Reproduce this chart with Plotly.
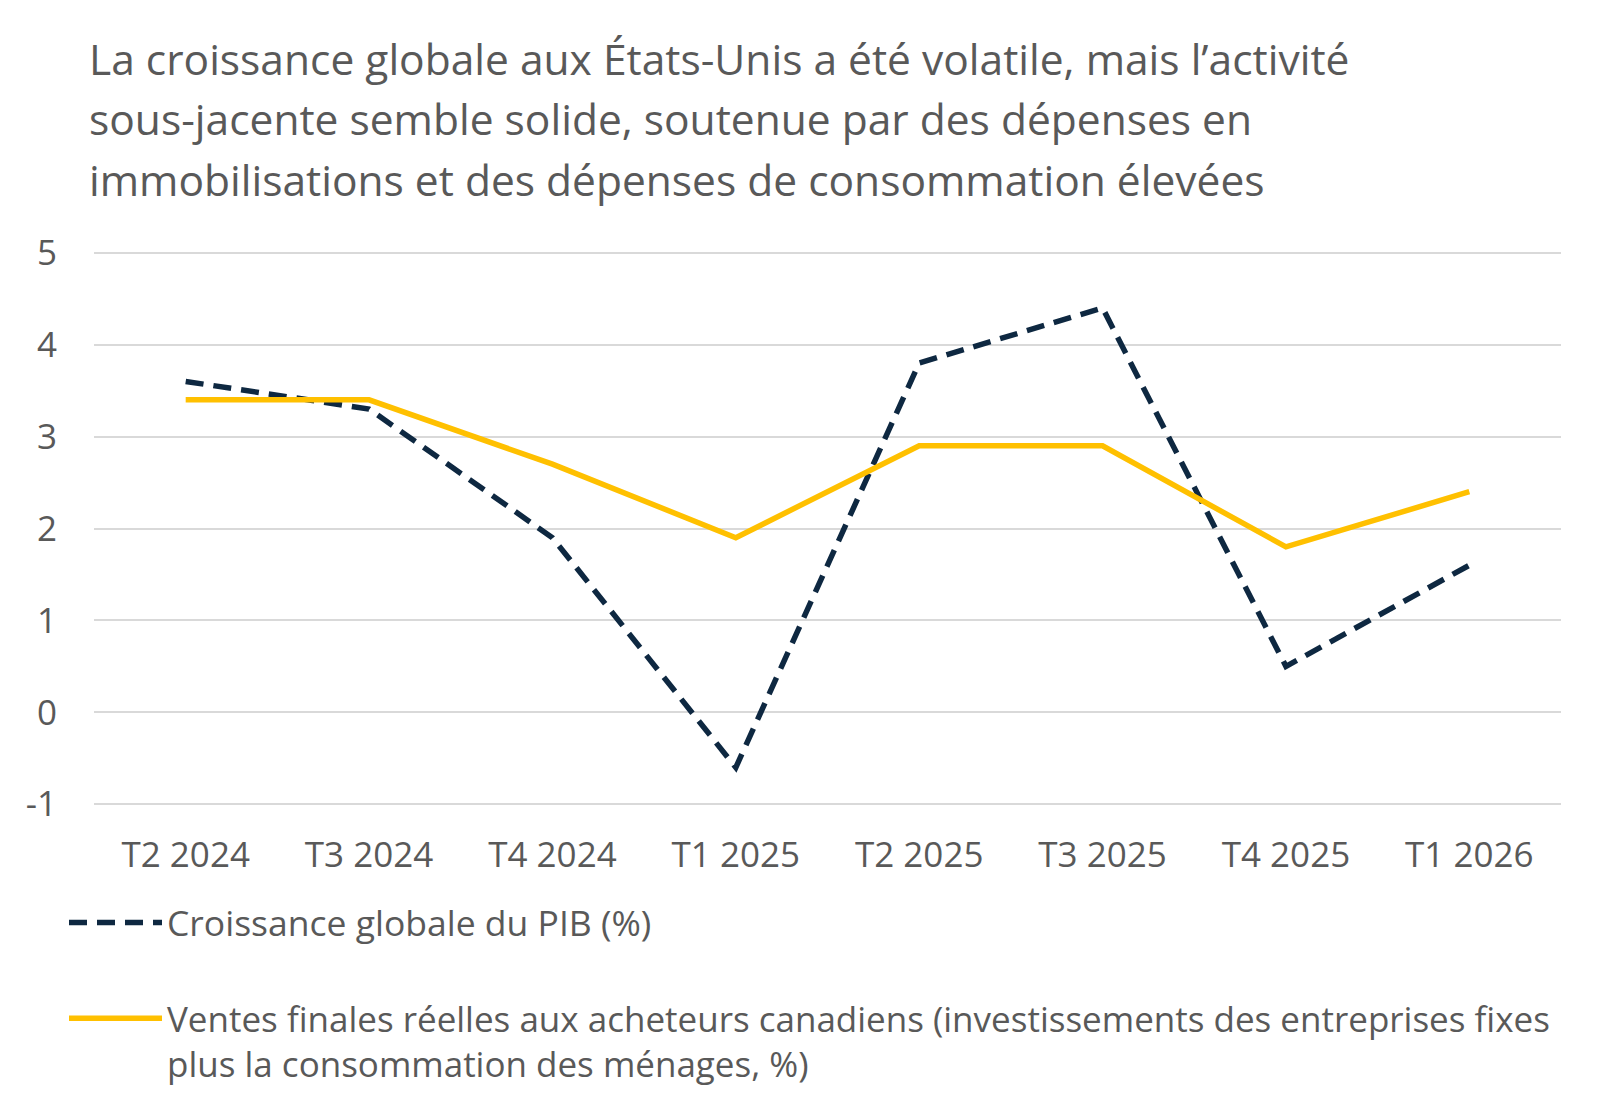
import plotly.graph_objects as go

categories = ["T2 2024", "T3 2024", "T4 2024", "T1 2025", "T2 2025", "T3 2025", "T4 2025", "T1 2026"]
gdp_growth = [3.6, 3.3, 1.9, -0.6, 3.8, 4.4, 0.5, 1.6]
final_sales = [3.4, 3.4, 2.7, 1.9, 2.9, 2.9, 1.8, 2.4]
y_ticks = [-1, 0, 1, 2, 3, 4, 5]
y_tick_labels = ["-1", "0", "1", "2", "3", "4", "5"]

title_lines = [
    "La croissance globale aux États-Unis a été volatile, mais l’activité",
    "sous-jacente semble solide, soutenue par des dépenses en",
    "immobilisations et des dépenses de consommation élevées",
]
name_gdp = "Croissance globale du PIB (%)"
name_sales = "Ventes finales réelles aux acheteurs canadiens (investissements des entreprises fixes<br>plus la consommation des ménages, %)"

FONT = "Open Sans"
TXT = "#595959"
NAVY = "#0E2841"
GOLD = "#FFC000"

W, H = 1600, 1108
L, R, T, B = 94, 39, 250, 301
PW, PH = W - L - R, H - T - B

def px_x(px):
    return (px - L) / PW

def px_y(py):
    return (H - B - py) / PH

fig = go.Figure()
fig.add_trace(go.Scatter(
    x=categories, y=gdp_growth, mode="lines", name=name_gdp,
    line=dict(color=NAVY, width=5.5, dash="18px,10px"),
    legend="legend",
))
fig.add_trace(go.Scatter(
    x=categories, y=final_sales, mode="lines", name=name_sales,
    line=dict(color=GOLD, width=5.5),
    legend="legend2",
))

annotations = []
for i, t in enumerate(title_lines):
    annotations.append(dict(
        text=t, xref="paper", yref="paper",
        x=px_x(87), xanchor="left",
        y=px_y(58 + 60.5 * i), yanchor="middle",
        showarrow=False, font=dict(family=FONT, size=42.5, color=TXT),
    ))

fig.update_layout(
    width=W, height=H,
    margin=dict(l=L, r=R, t=T, b=B, autoexpand=False),
    paper_bgcolor="white", plot_bgcolor="white",
    font=dict(family=FONT, color=TXT, size=35),
    annotations=annotations,
    xaxis=dict(
        type="category", range=[-0.5, 7.5], showgrid=False, showline=False,
        zeroline=False, ticks="", tickfont=dict(size=35, color=TXT),
        tickangle=0, automargin=False, ticklabelstandoff=24,
    ),
    yaxis=dict(
        range=[-1.03, 5.03], tickvals=y_ticks, ticktext=y_tick_labels,
        showgrid=True, gridcolor="#D9D9D9",
        gridwidth=1.5, zeroline=False, showline=False, ticks="",
        tickfont=dict(size=35, color=TXT), ticklabelstandoff=36,
        automargin=False,
    ),
    legend=dict(
        xref="container", yref="container", x=64 / W, xanchor="left",
        y=1 - 923 / H, yanchor="middle", font=dict(size=35.5, color=TXT),
        itemwidth=93, bgcolor="rgba(0,0,0,0)", valign="top",
    ),
    legend2=dict(
        xref="container", yref="container", x=64 / W, xanchor="left",
        y=1 - 1041 / H, yanchor="middle", font=dict(size=35, color=TXT),
        itemwidth=93, bgcolor="rgba(0,0,0,0)", valign="top",
    ),
    showlegend=True,
)

fig.write_html("out.html")
